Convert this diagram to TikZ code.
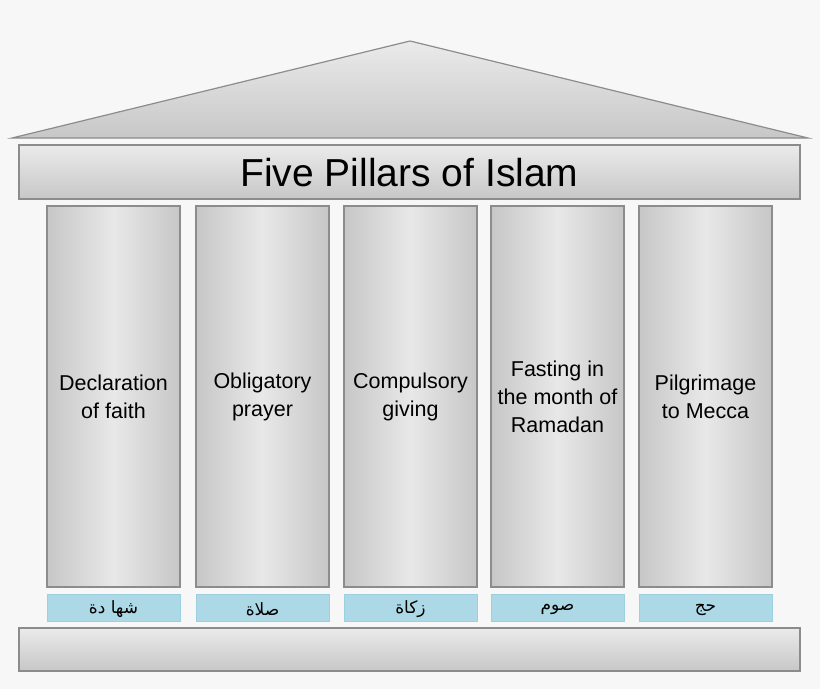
\documentclass[tikz,border=0pt]{standalone}
\usepackage{fontspec}
\setmainfont{Liberation Sans}
\newfontfamily\arabicfont[Script=Arabic]{DejaVu Sans}
\TeXXeTstate=1
\definecolor{lblue}{HTML}{ADD8E6}
\definecolor{lblueedge}{HTML}{9CCFDF}
\begin{document}
\begin{tikzpicture}[x=1pt,y=-1pt,
  edge/.style={draw=black!45,line width=1.2pt},
  pillar/.style={edge,left color=black!22,right color=black!22,middle color=black!9},
  hbar/.style={edge,top color=black!8,bottom color=black!22},
  lab/.style={fill=lblue,draw=lblueedge,line width=1pt}]
\useasboundingbox[fill=black!3] (0,0) rectangle (820,689);
\fill[black!3] (0,0) rectangle (820,689);
\path[hbar] (12,138) -- (410,41) -- (808,138) -- cycle;
\path[hbar] (19,145) rectangle (800,199);
\node (title) at (409.5,173) {\fontsize{39}{44}\selectfont Five Pillars of Islam};
\path[hbar] (19,628) rectangle (800,671);
\foreach \x/\t/\a [count=\i] in {47/{Declaration\\of faith}/{شها دة},196/{Obligatory\\prayer}/{صلاة},344/{Compulsory\\giving}/{زكاة},491/{Fasting in\\the month of\\Ramadan}/{صوم},639/{Pilgrimage\\to Mecca}/{حج}}{
  \path[pillar] (\x,206) rectangle ({\x+133},587);
  \node[align=center,font=\fontsize{21.5}{28}\selectfont] (p\i) at ({\x+66.5},397) {\t};
  \path[lab] (\x,594) rectangle ({\x+133},621);
  \node (a\i) at ({\x+66.5},609.5) {\arabicfont\fontsize{17}{19}\selectfont\beginR \a\endR};
}
\end{tikzpicture}
\end{document}
